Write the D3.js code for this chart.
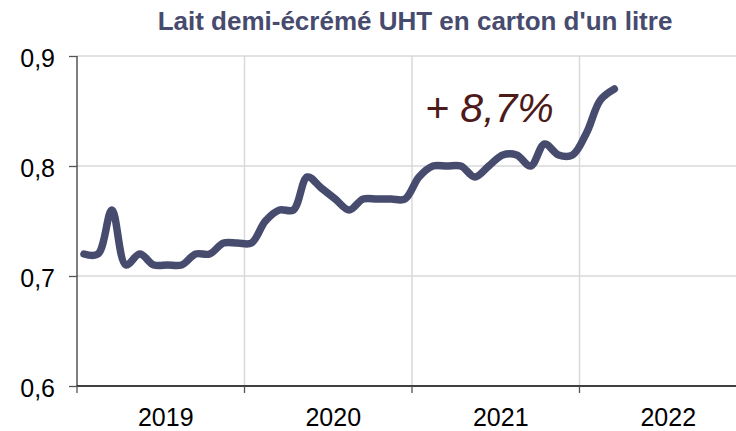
<!DOCTYPE html>
<html>
<head>
<meta charset="utf-8">
<script src="https://cdn.jsdelivr.net/npm/d3@7"></script>
<style>
  body { margin: 0; background: #fff; }
  svg { display: block; font-family: "Liberation Sans", Arial, sans-serif; }
</style>
</head>
<body>
<script>
// monthly price, Jan 2019 -> Mar 2022 (euros per litre)
var years = ["2019", "2020", "2021", "2022"];
var yTicks = [0.6, 0.7, 0.8, 0.9];
var prices = [
  0.72, 0.72, 0.76, 0.71, 0.72, 0.71, 0.71, 0.71, 0.72, 0.72, 0.73, 0.73,
  0.73, 0.75, 0.76, 0.76, 0.79, 0.78, 0.77, 0.76, 0.77, 0.77, 0.77, 0.77,
  0.79, 0.80, 0.80, 0.80, 0.79, 0.80, 0.81, 0.81, 0.80, 0.82, 0.81, 0.81,
  0.83, 0.86, 0.87
];
var title = "Lait demi-écrémé UHT en carton d'un litre";
var note = "+ 8,7%";

var W = 736, H = 431;
var margin = {top: 56, left: 77, bottom: 45};
var plotH = H - margin.top - margin.bottom;

var svg = d3.select("body").append("svg")
    .attr("width", W)
    .attr("height", H);

// x in months since Jan 2019, one year = 167.5px
var x = d3.scaleLinear().domain([0, 48]).range([margin.left, margin.left + 670]);
var y = d3.scaleLinear().domain([0.6, 0.9]).range([margin.top + plotH, margin.top]);

var grid = svg.append("g").attr("stroke", "#d9d9d9").attr("stroke-width", 1.5);
grid.selectAll(".hg")
  .data(yTicks.slice(1))
  .enter().append("line")
    .attr("x1", x(0)).attr("x2", W)
    .attr("y1", function(d) { return y(d); })
    .attr("y2", function(d) { return y(d); });
grid.selectAll(".vg")
  .data([12, 24, 36])
  .enter().append("line")
    .attr("x1", function(d) { return x(d); })
    .attr("x2", function(d) { return x(d); })
    .attr("y1", y(0.9)).attr("y2", y(0.6));

// y axis
var yAxis = svg.append("g")
    .attr("transform", "translate(" + x(0) + ",0)")
    .call(d3.axisLeft(y).tickValues(yTicks).tickSize(8).tickPadding(14)
      .tickFormat(function(d) { return d3.format(".1f")(d).replace(".", ","); }));
yAxis.select(".domain").attr("stroke", "#000").attr("d", "M0," + y(0.9) + "V" + y(0.6));
yAxis.selectAll(".tick line").attr("stroke", "#555").attr("stroke-width", 1.3);
yAxis.selectAll("text").attr("font-size", 25).attr("fill", "#000").attr("dy", "0.4em");

// x axis
var xAxis = svg.append("g")
    .attr("transform", "translate(0," + y(0.6) + ")");
xAxis.append("line")
    .attr("x1", x(0)).attr("x2", W)
    .attr("stroke", "#000").attr("stroke-width", 1.3);
xAxis.selectAll(".xt")
  .data([0, 12, 24, 36])
  .enter().append("line")
    .attr("x1", function(d) { return x(d); })
    .attr("x2", function(d) { return x(d); })
    .attr("y1", 0).attr("y2", 7)
    .attr("stroke", "#555").attr("stroke-width", 1.3);
xAxis.selectAll(".xl")
  .data(years)
  .enter().append("text")
    .attr("x", function(d, i) { return x(i * 12 + 6) + 5; })
    .attr("y", 40)
    .attr("text-anchor", "middle")
    .attr("font-size", 25)
    .attr("fill", "#000")
    .text(function(d) { return d; });

var line = d3.line()
    .x(function(d, i) { return x(i + 0.5); })
    .y(function(d) { return y(d); })
    .curve(d3.curveCatmullRom);

svg.append("path")
    .datum(prices)
    .attr("fill", "none")
    .attr("stroke", "#474b6e")
    .attr("stroke-width", 7.5)
    .attr("stroke-linecap", "round")
    .attr("stroke-linejoin", "round")
    .attr("d", line);

svg.append("text")
    .attr("x", 415).attr("y", 30)
    .attr("text-anchor", "middle")
    .attr("font-size", 26)
    .attr("font-weight", "bold")
    .attr("fill", "#474b6e")
    .text(title);

svg.append("text")
    .attr("x", 425).attr("y", 122)
    .attr("font-size", 41)
    .attr("font-style", "italic")
    .attr("fill", "#4d1a1a")
    .text(note);
</script>
</body>
</html>
